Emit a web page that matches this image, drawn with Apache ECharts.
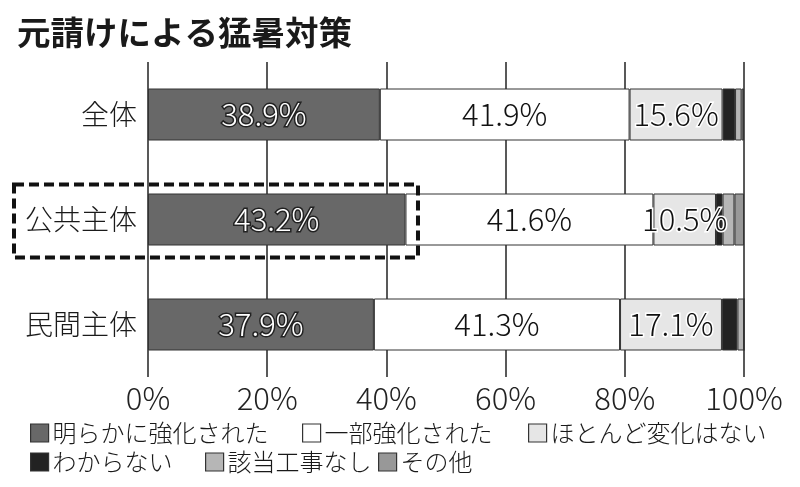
<!DOCTYPE html>
<html><head><meta charset="utf-8">
<script src="https://cdn.jsdelivr.net/npm/echarts@6/dist/echarts.min.js"></script>
<style>html,body{margin:0;padding:0;background:#fff}#c{width:800px;height:487px}</style>
</head><body><div id="c"></div>
<script>
const categories = ['全体', '公共主体', '民間主体'];
const seriesNames = ['明らかに強化された', '一部強化された', 'ほとんど変化はない', 'わからない', '該当工事なし', 'その他'];
const clearlyStrengthened = [38.9, 43.2, 37.9];
const partlyStrengthened = [41.9, 41.6, 41.3];
const hardlyChanged = [15.6, 10.5, 17.1];
const dontKnow = [2.1, 1.1, 2.6];
const notApplicable = [1.1, 2.0, 1.1];
const other = [0.4, 1.6, 0];
const xTicks = [0, 20, 40, 60, 80, 100];

const FONT = '"Noto Sans CJK JP", "Noto Sans", sans-serif';
const colors = ['#686868', '#ffffff', '#e6e6e6', '#222222', '#b6b6b6', '#989898'];
const values = [clearlyStrengthened, partlyStrengthened, hardlyChanged, dontKnow, notApplicable, other];
const labelStyles = [
  {show: true, color: '#fff', textBorderColor: '#222', textBorderWidth: 3},
  {show: true, color: '#111'},
  {show: true, color: '#111', textBorderColor: '#fff', textBorderWidth: 3},
  {show: false}, {show: false}, {show: false}
];

const chart = echarts.init(document.getElementById('c'), null, {renderer: 'canvas'});
const legendPos = [[30, 421], [302, 421], [528, 421], [30, 450], [205, 450], [378, 450]];

const option = {
  animation: false,
  backgroundColor: '#fff',
  title: {
    text: '元請けによる猛暑対策', left: 17, top: 16, padding: 0,
    textStyle: {fontFamily: FONT, fontSize: 33.5, fontWeight: 'bold', color: '#1a1a1a'}
  },
  legend: seriesNames.map((n, i) => ({
    data: [n], left: legendPos[i][0], top: legendPos[i][1], padding: 0,
    icon: 'rect', itemWidth: 18, itemHeight: 18,
    itemStyle: {borderColor: '#333', borderWidth: 1.2},
    textStyle: {fontFamily: FONT, fontSize: 24, fontWeight: 300, color: '#1a1a1a', lineHeight: 24, padding: [0, 0, 0, -1]}
  })),
  grid: {left: 148, right: 56, top: 62, bottom: 110},
  xAxis: {
    type: 'value', min: xTicks[0], max: xTicks[xTicks.length - 1], interval: 20,
    axisLine: {show: false}, axisTick: {show: false},
    splitLine: {show: true, lineStyle: {color: '#222', width: 1.5}},
    axisLabel: {formatter: '{value}%', fontFamily: FONT, fontSize: 31, fontWeight: 300, color: '#222', margin: 6}
  },
  yAxis: {
    type: 'category', data: categories, inverse: true,
    axisLine: {show: false}, axisTick: {show: false},
    axisLabel: {fontFamily: FONT, fontSize: 28, fontWeight: 300, color: '#1a1a1a', margin: 11}
  },
  series: seriesNames.map((n, i) => ({
    name: n, type: 'bar', stack: 'total', barWidth: 52, data: values[i],
    itemStyle: {color: colors[i], borderColor: '#333', borderWidth: 1},
    label: Object.assign({position: 'inside', fontFamily: FONT, fontSize: 31, fontWeight: 300,
      formatter: p => p.value.toFixed(1) + '%'}, labelStyles[i])
  }))
};
chart.setOption(option);

// dashed highlight box around 公共主体, positioned from the axis scales
const cy = chart.convertToPixel({yAxisIndex: 0}, '公共主体');
const xr = chart.convertToPixel({xAxisIndex: 0}, 45.3);
chart.setOption({
  graphic: [{
    type: 'rect', z: 100,
    shape: {x: 14, y: cy - 35, width: xr - 14, height: 73},
    style: {fill: 'none', stroke: '#111', lineWidth: 4, lineDash: [10, 5]}
  }]
});
</script>
</body></html>
